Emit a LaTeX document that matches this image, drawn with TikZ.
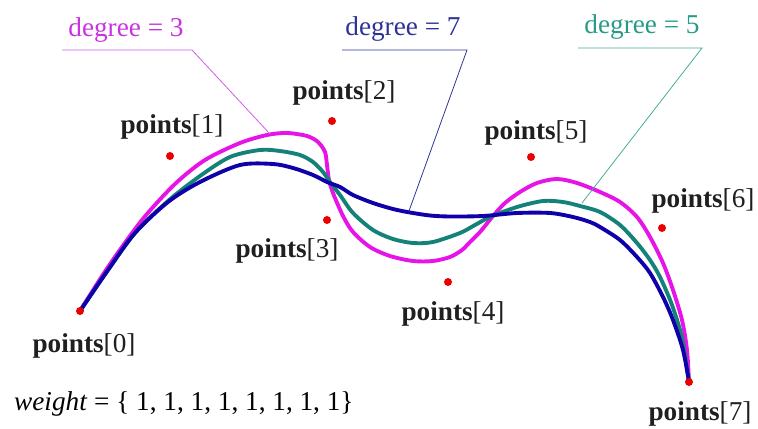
\documentclass[tikz,border=0pt]{standalone}
\usepackage{fontspec}
\setmainfont{Liberation Serif}

\definecolor{magc}{RGB}{230,20,230}
\definecolor{tealc}{RGB}{20,130,120}
\definecolor{bluec}{RGB}{15,0,170}
\definecolor{magt}{RGB}{200,50,225}
\definecolor{tealt}{RGB}{40,155,135}
\definecolor{bluet}{RGB}{45,50,150}
\definecolor{dotred}{RGB}{235,0,0}

\begin{document}
\begin{tikzpicture}[
  x=0.02cm, y=-0.02cm,
  font=\fontsize{15.5}{18}\selectfont,
  curve/.style={line width=2.2pt, line join=round, line cap=round},
  dot/.style={circle, fill=dotred, inner sep=0pt, minimum size=0.16cm},
  plab/.style={anchor=base, text=black!88},
  dlab/.style={anchor=base},
  lead/.style={line width=0.45pt}
]
\useasboundingbox (0,0) rectangle (758,429);

% control points
\coordinate (p0) at (80,311);
\coordinate (p1) at (170,156);
\coordinate (p2) at (332,121);
\coordinate (p3) at (327,220);
\coordinate (p4) at (448,282);
\coordinate (p5) at (531,157);
\coordinate (p6) at (662,228);
\coordinate (p7) at (689,382);

% degree = 3
\draw[curve, magc] plot[smooth, tension=0.5] coordinates {
  (80,311) (108,267) (142,220) (175,184) (205,160) (240,143) (267,135)
  (287,133) (307,136) (318,142) (325,152) (327,165) (329,180) (333,193)
  (343,216) (353,232) (370,247) (390,256) (413,261) (433,261) (450,257)
  (462,250) (470,242) (480,232) (493,216) (505,203) (520,192) (537,183)
  (557,179) (577,183) (600,192) (620,202) (637,217) (650,237) (663,263)
  (673,290) (682,320) (687,350) (689,382)};
% degree = 5
\draw[curve, tealc] plot[smooth, tension=0.5] coordinates {
  (80,311) (108,270) (135,233) (168,201) (200,176) (230,157) (260,150)
  (280,151) (300,155) (313,162) (323,172) (330,182) (340,195) (353,213)
  (373,230) (393,239) (413,243) (433,242) (460,233) (475,225) (490,217)
  (517,207) (543,201) (563,202) (580,206) (600,212) (620,225) (637,243)
  (650,260) (660,277) (672,305) (682,338) (689,382)};
% degree = 7
\draw[curve, bluec] plot[smooth, tension=0.5] coordinates {
  (80,311) (108,270) (135,233) (168,202) (200,182) (240,165) (273,164)
  (293,168) (313,175) (327,182) (340,187) (353,195) (373,203) (393,209)
  (410,212.5) (430,215.5) (450,216.5) (483,216) (517,213) (550,213)
  (573,217) (590,222) (600,227) (620,240) (637,257) (650,273) (663,297)
  (673,320) (683,350) (689,382)};

% dots
\foreach \i in {0,...,7}
  \node[dot] (d\i) at (p\i) {};

% point labels
\node[plab] (l0) at (84,352) {\textbf{points}[0]};
\node[plab] (l1) at (172,133) {\textbf{points}[1]};
\node[plab] (l2) at (344,100) {\textbf{points}[2]};
\node[plab] (l3) at (287,257) {\textbf{points}[3]};
\node[plab] (l4) at (453,320) {\textbf{points}[4]};
\node[plab] (l5) at (536,140) {\textbf{points}[5]};
\node[plab] (l6) at (703,208) {\textbf{points}[6]};
\node[plab] (l7) at (700,420) {\textbf{points}[7]};
\node[anchor=base west] (w) at (8,410) {\textit{weight} = \{ 1, 1, 1, 1, 1, 1, 1, 1\}};

% degree labels with leaders
\node[dlab, text=magt] (g3) at (126,37) {degree = 3};
\node[dlab, text=bluet] (g7) at (403,36) {degree = 7};
\node[dlab, text=tealt] (g5) at (642,34) {degree = 5};
\coordinate (g3a) at (62,50);  \coordinate (g3b) at (192,50);  \coordinate (c3) at (270,134);
\coordinate (g7a) at (342,50); \coordinate (g7b) at (467,50); \coordinate (c7) at (409,211);
\coordinate (g5a) at (578,48); \coordinate (g5b) at (702,48); \coordinate (c5) at (582,203);
\draw[lead, magt!80] (g3a) -- (g3b) -- (c3);
\draw[lead, bluet] (g7a) -- (g7b) -- (c7);
\draw[lead, tealt!85] (g5a) -- (g5b) -- (c5);
\end{tikzpicture}
\end{document}
